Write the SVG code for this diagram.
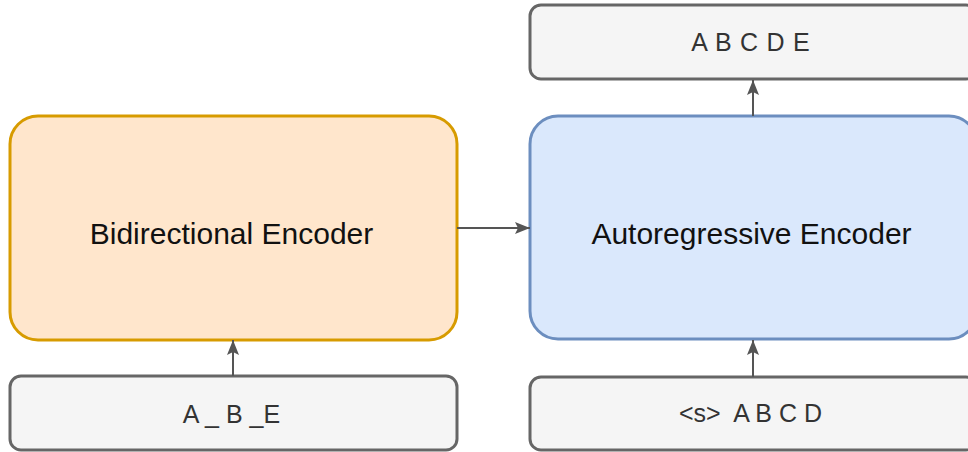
<svg xmlns="http://www.w3.org/2000/svg" width="968" height="452" viewBox="0 0 968 452">
  <style>
    .token { fill: #f5f5f5; stroke: #666666; stroke-width: 3; }
    .bidi { fill: #ffe6cc; stroke: #d79b00; stroke-width: 3; }
    .auto { fill: #dae8fc; stroke: #6c8ebf; stroke-width: 3; }
    .big { font-family: "Liberation Sans", Arial, Helvetica, sans-serif; font-size: 30px; fill: #111111; text-anchor: middle; }
    .seq { font-family: "Liberation Sans", Arial, Helvetica, sans-serif; font-size: 25px; fill: #333333; text-anchor: middle; }
    .edge { fill: none; stroke: #555555; stroke-width: 2; }
  </style>
  <defs>
    <marker id="arrow" markerUnits="userSpaceOnUse" markerWidth="16" markerHeight="14" refX="15" refY="7" orient="auto">
      <path d="M0,1 L15,7 L0,13 L3,7 Z" fill="#555555"/>
    </marker>
  </defs>
  <rect width="968" height="452" fill="#ffffff"/>

  <g id="output-tokens">
    <rect class="token" x="530" y="5" width="447" height="74" rx="11"/>
    <text class="seq" x="750.5" y="51" word-spacing="1.5">A B C D E</text>
  </g>

  <g id="bidirectional-encoder">
    <rect class="bidi" x="10" y="116" width="447" height="224" rx="28"/>
    <text class="big" x="231.5" y="244">Bidirectional Encoder</text>
  </g>

  <g id="autoregressive-encoder">
    <rect class="auto" x="530" y="116" width="447" height="223" rx="28"/>
    <text class="big" x="751.5" y="244">Autoregressive Encoder</text>
  </g>

  <g id="masked-input">
    <rect class="token" x="10" y="376" width="447" height="74" rx="11"/>
    <text class="seq" x="231.5" y="423">A _ B _E</text>
  </g>

  <g id="shifted-input">
    <rect class="token" x="530" y="377" width="447" height="73" rx="11"/>
    <text class="seq" x="750.5" y="422">&lt;s&gt;&#160; A B C D</text>
  </g>

  <g id="connectors">
    <path class="edge" d="M457,228 L530,228" marker-end="url(#arrow)"/>
    <path class="edge" d="M753,116 L753,80" marker-end="url(#arrow)"/>
    <path class="edge" d="M233,376 L233,340" marker-end="url(#arrow)"/>
    <path class="edge" d="M753,377 L753,340" marker-end="url(#arrow)"/>
  </g>
</svg>
